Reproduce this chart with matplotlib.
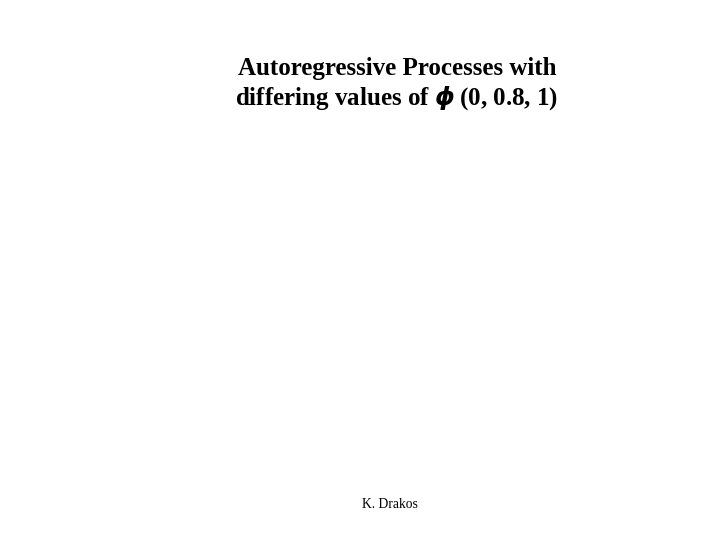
import matplotlib
matplotlib.use("Agg")
import matplotlib.pyplot as plt

# slide text
title_lines = ["Autoregressive Processes with", "differing values of $\\boldsymbol{\\phi}$\u2009(0, 0.8, 1)"]
footer = "K. Drakos"

plt.rcParams['font.family'] = ['Liberation Serif', 'DejaVu Serif']
plt.rcParams['mathtext.fontset'] = 'custom'
plt.rcParams['mathtext.rm'] = 'Liberation Serif:bold'
plt.rcParams['mathtext.it'] = 'Liberation Serif:italic:bold'
plt.rcParams['mathtext.bf'] = 'Liberation Serif:italic:bold'

fig = plt.figure(figsize=(7.2, 5.4), dpi=100)
fig.patch.set_facecolor('white')

fig.text(397 / 720, 1 - 68 / 540, title_lines[0], ha='center', va='center',
         fontsize=18, fontweight='bold')
fig.text(397 / 720, 1 - 98 / 540, title_lines[1], ha='center', va='center',
         fontsize=18, fontweight='bold')
fig.text(390 / 720, 1 - 504 / 540, footer, ha='center', va='center', fontsize=9.8)

fig.savefig('out.png', dpi=100, facecolor='white')
